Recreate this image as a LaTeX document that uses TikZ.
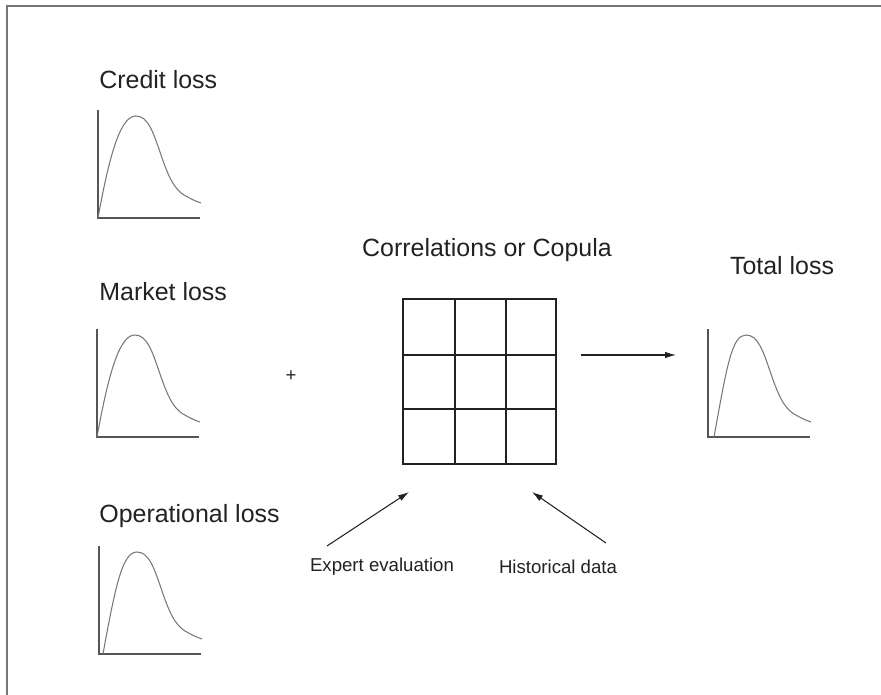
\documentclass[tikz,border=0pt]{standalone}
\usepackage{fontspec}
\setmainfont{Liberation Sans}
\usetikzlibrary{arrows.meta}
\definecolor{tinte}{HTML}{222222}
\definecolor{grau}{HTML}{555555}
\definecolor{hgrau}{HTML}{777777}
\tikzset{
  titel/.style={anchor=west,inner sep=0pt,text=tinte,font=\fontsize{14.2}{16}\selectfont},
  notiz/.style={inner sep=0pt,text=tinte,font=\fontsize{10.6}{12}\selectfont},
  achse/.style={grau,line width=0.8pt},
  kurve/.style={hgrau,line width=0.6pt},
  pfeil/.style={-{Latex[length=2.2mm,width=1.3mm]},tinte,line width=0.6pt},
  rahmen/.style={hgrau,line width=0.8pt},
  zelle/.style={tinte,line width=0.6pt},
}
% loss density: origin, start of the curve
\newcommand{\lossplot}[2]{%
  \begin{scope}[shift={#1},yscale=-1]
    \draw[achse] (0,108) -- (0,0) -- (102,0);
    \draw[kurve] (#2,0) .. controls ({#2+13},72) and (24,102) .. (38,102)
      .. controls (50,102) and (55,86) .. (62,66) .. controls (70,42) and (76,29) .. (86,23)
      .. controls (93,19) and (97,17) .. (103,15);
  \end{scope}}

\begin{document}
\begin{tikzpicture}[x=0.02cm,y=-0.02cm]
  \useasboundingbox (0,0) rectangle (881,695);
  \draw[rahmen] (7,695) -- (7,6) -- (881,6);
  % three risks
  \node[titel] (credit) at (99,80) {Credit loss};
  \lossplot{(98,218)}{0}
  \node[titel] (market) at (99,292) {Market loss};
  \lossplot{(97,437)}{0}
  \node[titel] (oper) at (99,516) {Operational loss};
  \lossplot{(99,654)}{4}
  \node[notiz] (plus) at (291,376) {+};
  % dependence
  \node[titel,anchor=center] (kopulatitel) at (487,250) {Correlations or Copula};
  \node[draw,zelle,minimum width=3.06cm,minimum height=3.3cm,inner sep=0pt] (kopula) at (479.5,381.5) {};
  \foreach \x in {455,506} \draw[zelle] (\x,299) -- (\x,464);
  \foreach \y in {355,409} \draw[zelle] (403,\y) -- (556,\y);
  % total
  \node[titel,anchor=center] (total) at (782,266) {Total loss};
  \lossplot{(708,437)}{6}
  \draw[pfeil] (581,355) coordinate (auswegA) -- (676,355) coordinate (auswegB);
  % inputs
  \node[notiz] (expert) at (382,567) {Expert evaluation};
  \node[notiz] (hist) at (558,567) {Historical data};
  \draw[pfeil] (327,546) coordinate (expertA) -- (409,492) coordinate (expertB);
  \draw[pfeil] (606,543) coordinate (histA) -- (532,492) coordinate (histB);
\end{tikzpicture}
\end{document}
